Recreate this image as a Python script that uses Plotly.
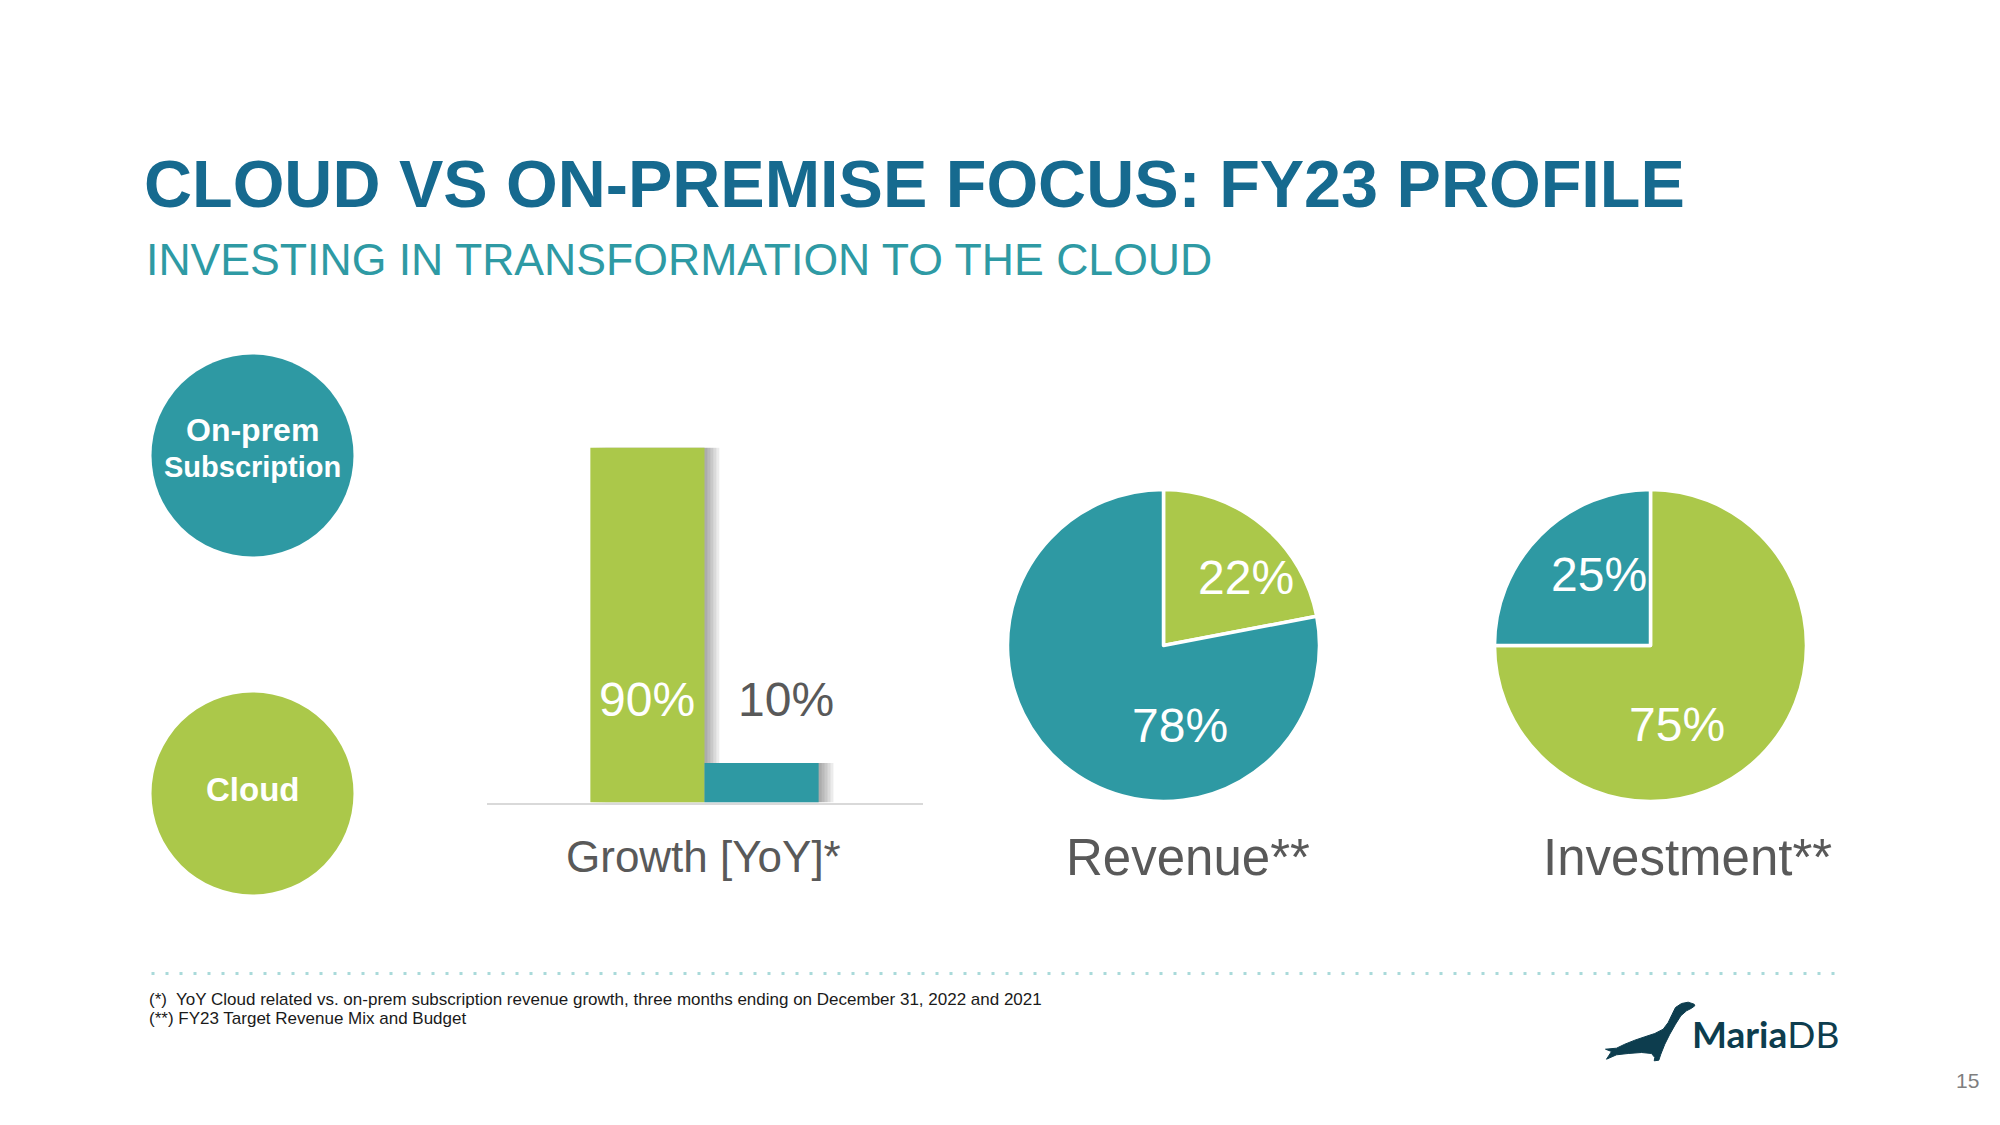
import plotly.graph_objects as go

W, H = 2000, 1125
OFF = 10.5  # page body margin compensation

# ---------------- data ----------------
segments = ["Cloud", "On-prem Subscription"]
growth_values = [90, 10]          # YoY growth mix (%)
revenue_values = [22, 78]         # FY23 revenue mix (%)
investment_values = [75, 25]      # FY23 investment mix (%)
panel_titles = ["Growth [YoY]*", "Revenue**", "Investment**"]
footnotes = [
    "(*)  YoY Cloud related vs. on-prem subscription revenue growth, three months ending on December 31, 2022 and 2021",
    "(**) FY23 Target Revenue Mix and Budget",
]

GREEN = "#abc84a"
TEAL = "#2e99a3"
TITLE = "#166a8f"
SUB = "#2e9aa4"
GRAY = "#595959"
FONT = "Liberation Sans, Arial, sans-serif"
seg_colors = [GREEN, TEAL]


def px(x):
    return (x - OFF) / W


def py(y):
    return 1 - (y - OFF) / H


def text(x, y, t, size, color, family=FONT, xanchor="center"):
    fig.add_annotation(x=px(x), y=py(y), xref="paper", yref="paper", text=t,
                       xanchor=xanchor, yanchor="middle", showarrow=False,
                       font=dict(family=family, size=size, color=color))


fig = go.Figure()

# ---------------- bar chart (growth) ----------------
xpos = list(range(len(growth_values)))
for k in range(1, 6):
    fig.add_trace(go.Bar(
        x=xpos, y=growth_values, width=1, offset=-0.5 + 0.026 * k,
        marker=dict(color="rgba(0,0,0,0.075)", line=dict(width=0)),
        hoverinfo="skip", xaxis="x", yaxis="y", showlegend=False,
    ))
fig.add_trace(go.Bar(
    x=xpos, y=growth_values, width=1, offset=-0.5,
    marker=dict(color=seg_colors, line=dict(width=0)),
    hovertext=segments, xaxis="x", yaxis="y", showlegend=False,
))

label_x = [0, 1.21]
label_colors = ["white", GRAY]
for xi, v, c in zip(label_x, growth_values, label_colors):
    fig.add_annotation(x=xi, y=26, xref="x", yref="y", text=f"{v}%",
                       xanchor="center", yanchor="middle",
                       showarrow=False, font=dict(family=FONT, size=48, color=c))

# ---------------- pies ----------------
pie_r = 156
pie_specs = [
    (revenue_values, 1166, 648),
    (investment_values, 1653, 648),
]
for vals, cx, cy in pie_specs:
    fig.add_trace(go.Pie(
        values=vals, labels=segments, sort=False, direction="clockwise", rotation=0,
        marker=dict(colors=seg_colors, line=dict(color="white", width=3.5)),
        textinfo="none", hoverinfo="label+percent", showlegend=False,
        domain=dict(x=[px(cx - pie_r), px(cx + pie_r)], y=[py(cy + pie_r), py(cy - pie_r)]),
    ))

pie_label_pos = [
    [(1248, 580), (1182, 728)],   # revenue: cloud, on-prem
    [(1679, 727), (1601, 577)],   # investment: cloud, on-prem
]
for vals, poss in zip([revenue_values, investment_values], pie_label_pos):
    for v, (lx, ly) in zip(vals, poss):
        text(lx, ly, f"{v}%", 48, "white")

# ---------------- panel titles ----------------
for t, (tx, ty, sz) in zip(panel_titles, [(706, 859, 44), (1190, 860, 51), (1690, 860, 51)]):
    text(tx, ty, t, sz, GRAY)

# ---------------- titles ----------------
text(144, 186, "<b>CLOUD VS ON-PREMISE FOCUS: FY23 PROFILE</b>", 66.5, TITLE, xanchor="left")
text(146, 262, "INVESTING IN TRANSFORMATION TO THE CLOUD", 44.6, SUB, xanchor="left")

# ---------------- legend circles ----------------
shapes = []
circ_r = 101
for (cx, cy), col in zip([(255, 458), (255, 796)], [TEAL, GREEN]):
    shapes.append(dict(type="circle", xref="paper", yref="paper",
                       x0=px(cx - circ_r), x1=px(cx + circ_r), y0=py(cy + circ_r), y1=py(cy - circ_r),
                       fillcolor=col, line=dict(width=0), layer="below"))
text(255, 432, "<b>On-prem</b>", 32, "white")
text(255, 470, "<b>Subscription</b>", 29, "white")
text(255, 792, "<b>Cloud</b>", 33, "white")

# ---------------- dotted separator ----------------
shapes.append(dict(type="line", xref="paper", yref="paper", x0=px(154), x1=px(1846),
                   y0=py(976), y1=py(976), line=dict(color="#a9dada", width=3, dash="3px,11px")))

# ---------------- footnotes ----------------
for i, t in enumerate(footnotes):
    text(149, 1002 + 19 * i, t, 17, "#1a1a1a", xanchor="left")

# ---------------- logo ----------------
seal = [(1696.7, 1006.7), (1690.7, 1004.7), (1684, 1006), (1678, 1010), (1674.7, 1016.7),
        (1670.7, 1025), (1665.7, 1031.7), (1657.3, 1036), (1647.3, 1039.3), (1637.3, 1042.7),
        (1627.3, 1046.7), (1619, 1050.7), (1608, 1051.7), (1614, 1054), (1609, 1061.7),
        (1619, 1057.3), (1630.7, 1056), (1644, 1055), (1654, 1056), (1657.3, 1060),
        (1656.7, 1063.3), (1661.3, 1062.7), (1663.3, 1056.7), (1667.3, 1046.7), (1672.3, 1036.7),
        (1678, 1026.7), (1683.3, 1018.3), (1689, 1013.3), (1694, 1010.7), (1697.3, 1008.3)]
path = "M " + " L ".join(f"{px(x):.5f},{py(y):.5f}" for x, y in seal) + " Z"
shapes.append(dict(type="path", xref="paper", yref="paper", path=path,
                   fillcolor="#0d3d4e", line=dict(color="#0d3d4e", width=1)))
text(1692, 1036, "<b>Maria</b>DB", 37, "#0d3d4e", family="Lato, Liberation Sans, sans-serif",
     xanchor="left")
text(1983, 1083, "15", 21, "#7f7f7f", xanchor="right")

fig.update_layout(
    width=W, height=H, margin=dict(l=0, r=0, t=0, b=0),
    paper_bgcolor="white", plot_bgcolor="white", barmode="overlay", showlegend=False,
    shapes=shapes,
    xaxis=dict(domain=[px(489), px(925)], range=[-1.41, 2.41], showgrid=False, zeroline=False,
               showticklabels=False, ticks="", showline=True, linecolor="#d9d9d9", linewidth=2,
               fixedrange=True),
    yaxis=dict(domain=[py(805), py(450)], range=[0, 90], showgrid=False, zeroline=False,
               showticklabels=False, ticks="", showline=False, fixedrange=True),
)

fig.write_html("out.html")
